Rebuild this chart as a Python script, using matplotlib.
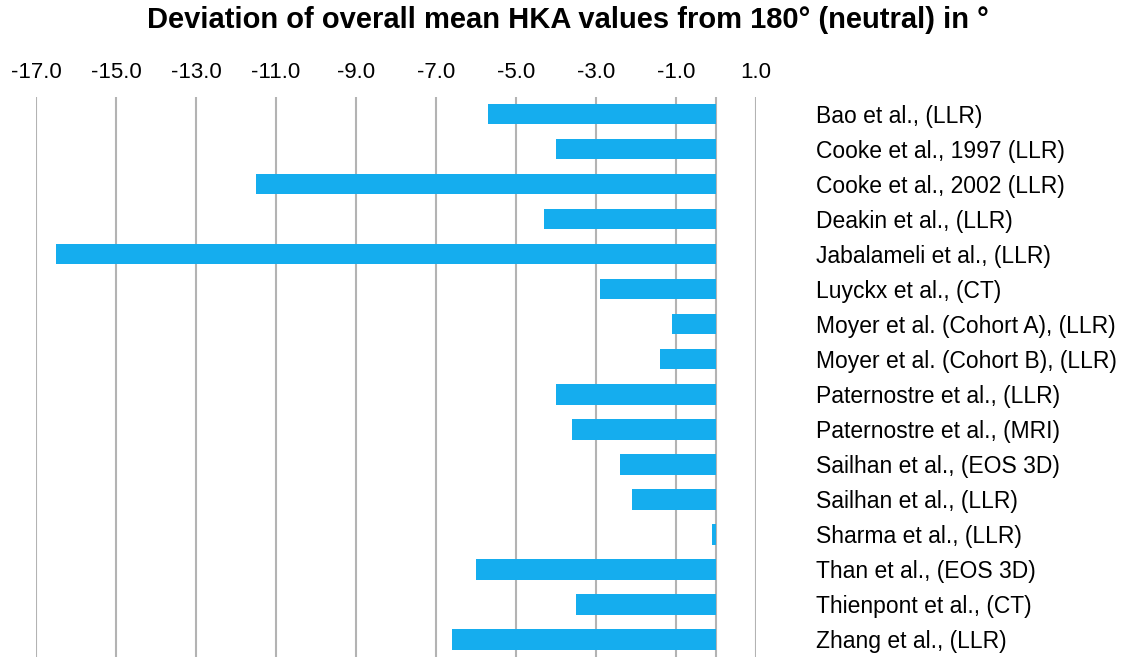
import numpy as np
import matplotlib
matplotlib.use("Agg")
import matplotlib.pyplot as plt

plt.rcParams['font.family'] = ['Liberation Sans', 'DejaVu Sans']

studies = [
    "Bao et al., (LLR)",
    "Cooke et al., 1997 (LLR)",
    "Cooke et al., 2002 (LLR)",
    "Deakin et al., (LLR)",
    "Jabalameli et al., (LLR)",
    "Luyckx et al., (CT)",
    "Moyer et al. (Cohort A), (LLR)",
    "Moyer et al. (Cohort B), (LLR)",
    "Paternostre et al., (LLR)",
    "Paternostre et al., (MRI)",
    "Sailhan et al., (EOS 3D)",
    "Sailhan et al., (LLR)",
    "Sharma et al., (LLR)",
    "Than et al., (EOS 3D)",
    "Thienpont et al., (CT)",
    "Zhang et al., (LLR)",
]
deviation = [-5.7, -4.0, -11.5, -4.3, -16.5, -2.9, -1.1, -1.4,
             -4.0, -3.6, -2.4, -2.1, -0.1, -6.0, -3.5, -6.6]
xticks = [-17, -15, -13, -11, -9, -7, -5, -3, -1, 1]

fig = plt.figure(figsize=(11.22, 6.57), dpi=100)
ax = fig.add_axes([36 / 1122, 0, 720 / 1122, 1 - 96.7 / 657])

y = np.arange(len(studies))
ax.barh(y, deviation, height=0.58, color='#15adee', zorder=3)

ax.set_xlim(-17, 1)
ax.set_ylim(len(studies) - 0.5, -0.5)

# grid
for t in xticks:
    ax.axvline(t, color='#b3b3b3', lw=1.5, zorder=1)
ax.axvline(0, color='#b3b3b3', lw=1.5, zorder=1)

ax.xaxis.tick_top()
ax.set_xticks(xticks)
ax.set_xticklabels([f"{t:.1f}" for t in xticks], fontsize=16)
ax.tick_params(axis='x', length=0, pad=10)

ax.yaxis.tick_right()
ax.set_yticks(y)
ax.set_yticklabels(studies, fontsize=16.5)
ax.tick_params(axis='y', length=0, pad=43)

for s in ax.spines.values():
    s.set_visible(False)

fig.text(0.506, 1 - 20 / 657, "Deviation of overall mean HKA values from 180° (neutral) in °",
         ha='center', va='center', fontsize=21, fontweight='bold')

fig.savefig("out.png", dpi=100)
